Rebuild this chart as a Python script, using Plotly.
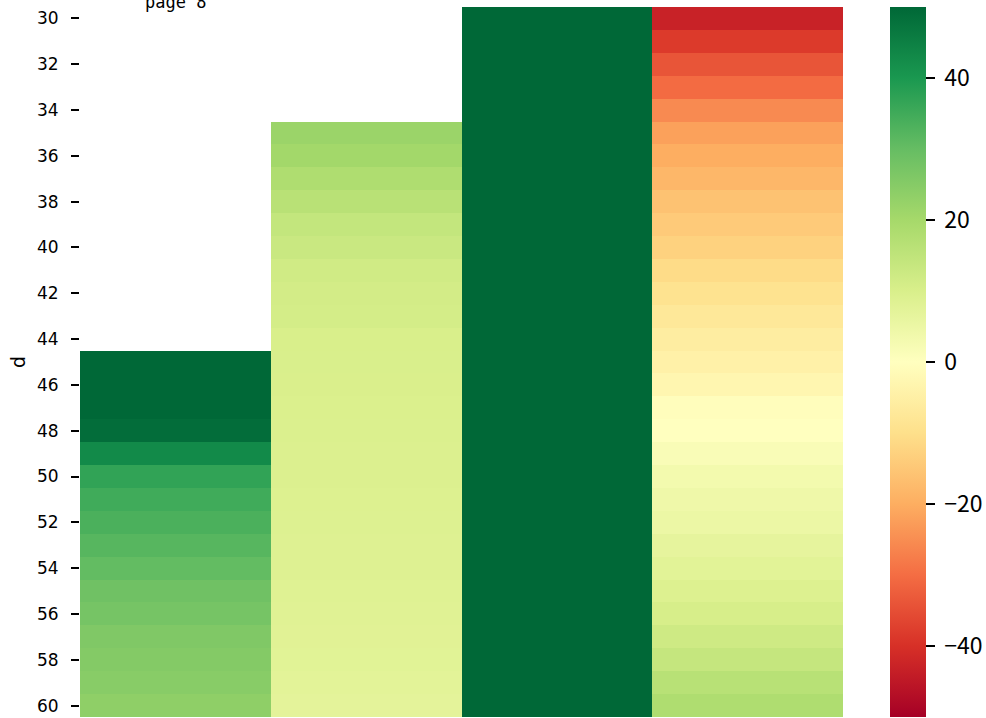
import plotly.graph_objects as go

rows = list(range(30, 61))
columns = ["a", "b", "c", "e"]
NaN = None

col_a = [NaN] * 15 + [52, 52, 52, 49, 43, 37, 35, 33.5, 32, 30.4, 28.5, 27.5, 26, 25.3, 24.7, 23.6]
col_b = [NaN] * 5 + [21.7, 20.5, 18.2, 16.3, 14.3, 13.1, 11.8, 11.2, 11.0, 10.0,
                     9.9, 9.8, 9.6, 9.5, 9.3, 9.2, 9.0, 8.9, 8.7, 8.6, 8.4, 8.2, 8.0, 7.8, 7.5, 7.2]
col_c = [58, 58, 58, 58, 58, 58, 58, 58, 58, 58, 58, 58, 58, 58, 58, 58,
         58, 58, 58, 58, 58, 58, 58, 58, 58, 58, 58, 58, 58, 58, 58]
col_e = [-43, -38.4, -34, -30.3, -25.5, -22, -20, -18.2, -16, -14.4, -12.8, -10.8, -9, -7.4, -5.8,
         -4.5, -2.9, -0.6, 0.0, 1.6, 3.2, 4.2, 5.0, 6.6, 7.6, 9.0, 10.4, 12.2, 13.9, 16.5, 18.2]

y_ticks = list(range(30, 61, 2))
cbar_ticks = [-40, -20, 0, 20, 40]
cbar_labels = ["\u221240", "\u221220", "0", "20", "40"]
title_text = "page 8"

z = [[col_a[i], col_b[i], col_c[i], col_e[i]] for i in range(len(rows))]

fig = go.Figure(go.Heatmap(
    z=z, x=columns, y=rows,
    colorscale="RdYlGn", zmin=-50, zmax=50,
    xgap=0, ygap=0,
    colorbar=dict(
        x=(890 - 80) / 763, xanchor="left", xref="paper",
        y=0.5, yanchor="middle", len=1.0, lenmode="fraction",
        thickness=36, outlinewidth=0, ypad=0, xpad=0,
        tickvals=cbar_ticks, ticktext=[" " + t for t in cbar_labels],
        ticks="outside", ticklen=9, tickwidth=2, tickcolor="black",
        tickfont=dict(family="Noto Sans CJK JP", size=23, color="black"),
    ),
))

fig.update_xaxes(showticklabels=False, ticks="", showgrid=False, zeroline=False,
                 showline=False)
fig.update_yaxes(
    autorange=False, range=[60.5, 29.5],
    tickvals=y_ticks, ticktext=[str(v) for v in y_ticks],
    ticks="outside", ticklen=8, tickwidth=2, tickcolor="black",
    ticklabelstandoff=9,
    tickfont=dict(family="DejaVu Sans", size=17, color="black"),
    showgrid=False, zeroline=False, showline=False,
    title=dict(text="d", font=dict(family="DejaVu Sans", size=19, color="black"), standoff=6),
)

fig.add_annotation(
    text=title_text, xref="paper", yref="paper",
    x=(175 - 80) / 763, y=1.0, yshift=-7,
    xanchor="center", yanchor="bottom", showarrow=False,
    font=dict(family="DejaVu Sans Mono", size=17, color="black"),
)

fig.update_layout(
    width=986, height=718,
    margin=dict(l=80, r=143, t=7, b=1, autoexpand=False),
    paper_bgcolor="white", plot_bgcolor="white",
)

fig.write_html("out.html", config={"displayModeBar": False},
               post_script="document.body.style.margin='0';document.body.style.overflow='hidden';")
